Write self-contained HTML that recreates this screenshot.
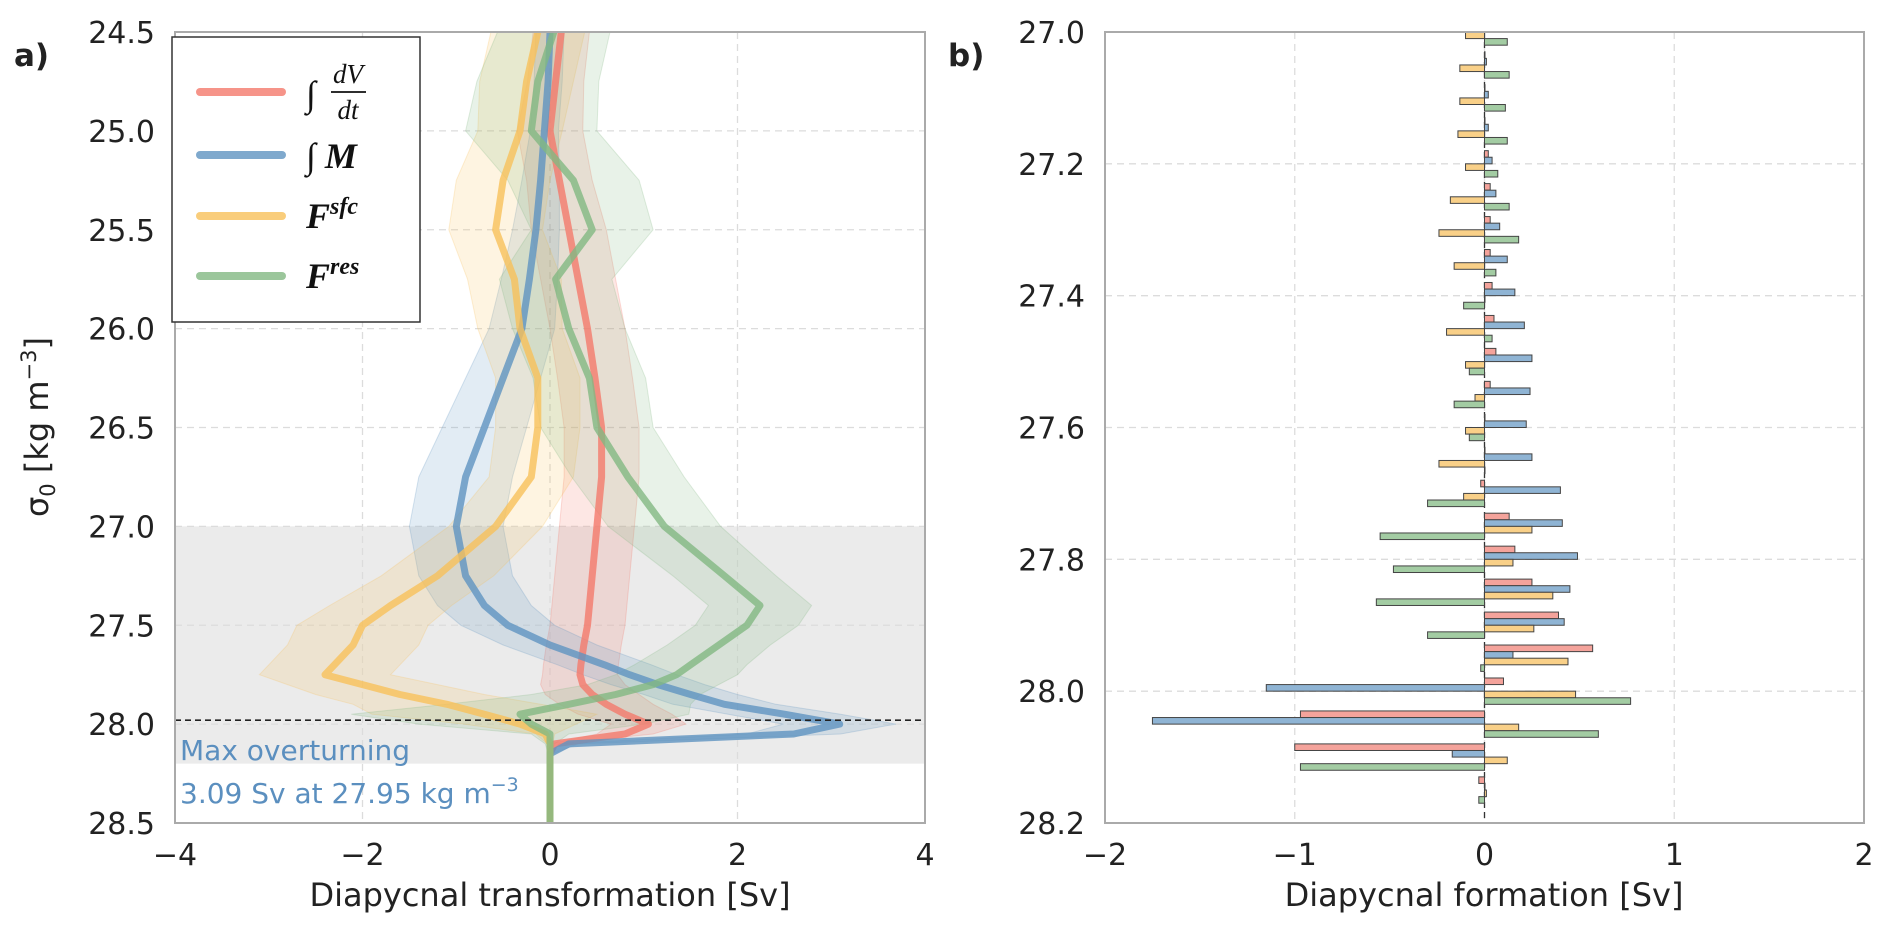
<!DOCTYPE html>
<html><head><meta charset="utf-8"><style>
html,body{margin:0;padding:0;background:#fff}
svg{display:block;font-family:"DejaVu Sans","Liberation Sans",sans-serif}
</style></head><body>
<svg id="fig" width="1892" height="931" viewBox="0 0 1892 931">
<g id="pa"></g>
<g id="pb"></g>
</svg>
<script>
// ---- Panel a data ----
const sigA = [24.5,24.75,25.0,25.25,25.5,25.75,26.0,26.25,26.5,26.75,27.0,27.25,27.4,27.5,27.6,27.7,27.75,27.8,27.85,27.9,27.95,28.0,28.05,28.1,28.15,28.3,28.5];
const redA = [0.12,0.06,0.0,0.1,0.2,0.3,0.4,0.48,0.55,0.55,0.5,0.45,0.42,0.4,0.36,0.33,0.32,0.35,0.45,0.6,0.8,1.05,0.8,0.05,0.0,0.0,0.0];
const blueA = [0.0,-0.02,-0.06,-0.1,-0.15,-0.22,-0.3,-0.5,-0.7,-0.9,-1.0,-0.9,-0.7,-0.45,0.0,0.58,0.85,1.15,1.5,1.86,2.5,3.09,2.6,0.2,0.0,0.0,0.0];
const yelA = [-0.13,-0.25,-0.32,-0.5,-0.58,-0.38,-0.32,-0.13,-0.13,-0.2,-0.58,-1.2,-1.7,-2.0,-2.1,-2.3,-2.4,-2.0,-1.6,-1.1,-0.7,-0.32,-0.05,0.0,0.0,0.0,0.0];
const grnA = [0.04,-0.13,-0.2,0.25,0.45,0.06,0.2,0.42,0.5,0.83,1.22,1.86,2.24,2.1,1.8,1.5,1.35,1.1,0.7,0.2,-0.32,-0.2,0.0,0.0,0.0,0.0,0.0];
const redW = [0.3,0.3,0.35,0.35,0.4,0.4,0.4,0.4,0.4,0.4,0.4,0.4,0.4,0.4,0.4,0.4,0.4,0.45,0.5,0.5,0.5,0.4,0.3,0.05,0.02,0.02,0.02];
const blueW = [0.15,0.15,0.15,0.2,0.25,0.3,0.35,0.4,0.45,0.5,0.5,0.5,0.5,0.5,0.5,0.5,0.5,0.5,0.5,0.55,0.6,0.6,0.5,0.1,0.03,0.02,0.02];
const yelW = [0.5,0.5,0.45,0.5,0.5,0.5,0.45,0.45,0.45,0.45,0.5,0.6,0.65,0.7,0.7,0.7,0.7,0.8,0.9,1.0,1.2,0.6,0.1,0.03,0.02,0.02,0.02];
const grnW = [0.6,0.65,0.7,0.7,0.65,0.6,0.6,0.6,0.6,0.6,0.6,0.55,0.55,0.55,0.55,0.6,0.65,0.7,0.9,1.3,1.8,1.2,0.2,0.05,0.02,0.02,0.02];
const xTicksA = [-4,-2,0,2,4];
const yTicksA = [24.5,25.0,25.5,26.0,26.5,27.0,27.5,28.0,28.5];
// ---- Panel b data ----
const sigB = [27.0,27.05,27.1,27.15,27.2,27.25,27.3,27.35,27.4,27.45,27.5,27.55,27.6,27.65,27.7,27.75,27.8,27.85,27.9,27.95,28.0,28.05,28.1,28.15];
const redB = [0,0,0,0,0.02,0.03,0.03,0.03,0.04,0.05,0.06,0.03,0,0,-0.02,0.13,0.16,0.25,0.39,0.57,0.1,-0.97,-1.0,-0.03];
const blueB = [0,0.01,0.02,0.02,0.04,0.06,0.08,0.12,0.16,0.21,0.25,0.24,0.22,0.25,0.4,0.41,0.49,0.45,0.42,0.15,-1.15,-1.75,-0.17,0.0];
const yelB = [-0.1,-0.13,-0.13,-0.14,-0.1,-0.18,-0.24,-0.16,0.0,-0.2,-0.1,-0.05,-0.1,-0.24,-0.11,0.25,0.15,0.36,0.26,0.44,0.48,0.18,0.12,0.01];
const grnB = [0.12,0.13,0.11,0.12,0.07,0.13,0.18,0.06,-0.11,0.04,-0.08,-0.16,-0.08,0.0,-0.3,-0.55,-0.48,-0.57,-0.3,-0.02,0.77,0.6,-0.97,-0.03];
const xTicksB = [-2,-1,0,1,2];
const yTicksB = [27.0,27.2,27.4,27.6,27.8,28.0,28.2];

const NS="http://www.w3.org/2000/svg";
function mk(parent,tag,attrs,text){const e=document.createElementNS(NS,tag);for(const k in attrs)e.setAttribute(k,attrs[k]);if(text!==undefined)e.textContent=text;parent.appendChild(e);return e;}
const TF=30, AF=32;

// Panel a axes
const A={l:175,r:925,t:32,b:823,x0:-4,x1:4,y0:24.5,y1:28.5};
const axA=v=>A.l+(v-A.x0)/(A.x1-A.x0)*(A.r-A.l);
const ayA=s=>A.t+(s-A.y0)/(A.y1-A.y0)*(A.b-A.t);
const pa=document.getElementById('pa');
let e;
e=mk(pa,'rect',{x:A.l,y:ayA(27.0),width:A.r-A.l,height:ayA(28.2)-ayA(27.0),fill:'#ebebeb'});


xTicksA.forEach(v=>{
  if(v>A.x0&&v<A.x1){e=mk(pa,'line',{x1:axA(v),x2:axA(v),y1:A.t,y2:A.b,stroke:'#dcdcdc','stroke-width':1.3,'stroke-dasharray':'7,5'});
  
  }
  e=mk(pa,'text',{x:axA(v),y:A.b+42,'text-anchor':'middle','font-size':TF,fill:'#222'},(v<0?'\u2212':'')+Math.abs(v));
  
  
});
yTicksA.forEach(v=>{
  if(v>A.y0&&v<A.y1){e=mk(pa,'line',{x1:A.l,x2:A.r,y1:ayA(v),y2:ayA(v),stroke:'#dcdcdc','stroke-width':1.3,'stroke-dasharray':'7,5'});
  
  }
  e=mk(pa,'text',{x:A.l-20,y:ayA(v)+11,'text-anchor':'end','font-size':TF,fill:'#222'},v.toFixed(1));
  
  
});
const seriesA=[[redA,redW,'#f4796b','dvdt'],[blueA,blueW,'#5f93c0','overturning'],[yelA,yelW,'#f8c05a','surface-flux'],[grnA,grnW,'#82b882','residual']];
seriesA.forEach(([v,w,c,n])=>{
  let p='';sigA.forEach((s,i)=>{p+=(i?'L':'M')+axA(v[i]-w[i]).toFixed(1)+','+ayA(s).toFixed(1);});
  for(let i=sigA.length-1;i>=0;i--)p+='L'+axA(v[i]+w[i]).toFixed(1)+','+ayA(sigA[i]).toFixed(1);
  e=mk(pa,'path',{d:p+'Z',fill:c,'fill-opacity':0.18,stroke:c,'stroke-opacity':0.25});
  
  
});
seriesA.forEach(([v,w,c,n])=>{
  let p='';sigA.forEach((s,i)=>{p+=(i?'L':'M')+axA(v[i]).toFixed(1)+','+ayA(s).toFixed(1);});
  e=mk(pa,'path',{d:p,fill:'none',stroke:c,'stroke-width':7,'stroke-opacity':0.8,'stroke-linejoin':'round'});
  
  
});
e=mk(pa,'line',{x1:A.l,x2:A.r,y1:ayA(27.98),y2:ayA(27.98),stroke:'#222','stroke-width':1.6,'stroke-dasharray':'6,4'});


e=mk(pa,'rect',{x:A.l,y:A.t,width:A.r-A.l,height:A.b-A.t,fill:'none',stroke:'#aaa','stroke-width':2});


e=mk(pa,'text',{x:180,y:760,'font-size':28,fill:'#5b8fbf'},'Max overturning');


e=mk(pa,'text',{x:180,y:803,'font-size':28,fill:'#5b8fbf'},'3.09 Sv at 27.95 kg m');


mk(e,'tspan',{dy:-12,'font-size':19},'\u22123');
e=mk(pa,'text',{transform:'translate(48,427) rotate(-90)','text-anchor':'middle','font-size':AF,fill:'#222'},'\u03c3');


mk(e,'tspan',{'font-size':21,dy:7},'0');
mk(e,'tspan',{dy:-7},' [kg m');
mk(e,'tspan',{'font-size':21,dy:-12},'\u22123');
mk(e,'tspan',{dy:12},']');
e=mk(pa,'text',{x:550,y:906,'text-anchor':'middle','font-size':AF,fill:'#222'},'Diapycnal transformation [Sv]');


e=mk(pa,'text',{x:14,y:66,'font-size':31,'font-weight':'bold',fill:'#222'},'a)');


// legend
const lg=mk(pa,'g',{});


mk(lg,'rect',{x:172,y:37,width:248,height:285,fill:'#fff',stroke:'#333','stroke-width':1.5});
const legY=[92,155,216,276];
seriesA.forEach(([v,w,c,n],i)=>{
  e=mk(lg,'line',{x1:200,x2:282,y1:legY[i],y2:legY[i],stroke:c,'stroke-width':8,'stroke-opacity':0.8,'stroke-linecap':'round'});
  
  
});
const sty={'font-family':'"Liberation Serif",serif',fill:'#111'};
e=mk(lg,'text',Object.assign({x:306,y:106,'font-size':36,'font-style':'italic'},sty),'\u222b');


mk(lg,'text',Object.assign({x:348,y:83,'font-size':27,'font-style':'italic','text-anchor':'middle'},sty),'dV');
mk(lg,'line',{x1:331,x2:366,y1:92,y2:92,stroke:'#111','stroke-width':1.8});
mk(lg,'text',Object.assign({x:348,y:119,'font-size':27,'font-style':'italic','text-anchor':'middle'},sty),'dt');
e=mk(lg,'text',Object.assign({x:306,y:168,'font-size':36},sty),'\u222b ');


mk(e,'tspan',{'font-weight':'bold','font-style':'italic'},'M');
e=mk(lg,'text',Object.assign({x:306,y:228,'font-size':36,'font-weight':'bold','font-style':'italic'},sty),'F');


mk(e,'tspan',{'font-size':24,dy:-14},'sfc');
e=mk(lg,'text',Object.assign({x:306,y:288,'font-size':36,'font-weight':'bold','font-style':'italic'},sty),'F');


mk(e,'tspan',{'font-size':24,dy:-14},'res');

// Panel b
const B={l:1105,r:1864,t:32,b:823,x0:-2,x1:2,y0:27.0,y1:28.2};
const axB=v=>B.l+(v-B.x0)/(B.x1-B.x0)*(B.r-B.l);
const ayB=s=>B.t+(s-B.y0)/(B.y1-B.y0)*(B.b-B.t);
const pb=document.getElementById('pb');
mk(pb,'clipPath',{id:'clipb'});
mk(document.getElementById('clipb'),'rect',{x:B.l,y:B.t,width:B.r-B.l,height:B.b-B.t});
xTicksB.forEach(v=>{
  if(v>B.x0&&v<B.x1){e=mk(pb,'line',{x1:axB(v),x2:axB(v),y1:B.t,y2:B.b,stroke:'#dcdcdc','stroke-width':1.3,'stroke-dasharray':'7,5'});
  
  }
  e=mk(pb,'text',{x:axB(v),y:B.b+42,'text-anchor':'middle','font-size':TF,fill:'#222'},(v<0?'\u2212':'')+Math.abs(v));
  
  
});
yTicksB.forEach(v=>{
  if(v>B.y0+1e-9&&v<B.y1-1e-9){e=mk(pb,'line',{x1:B.l,x2:B.r,y1:ayB(v),y2:ayB(v),stroke:'#dcdcdc','stroke-width':1.3,'stroke-dasharray':'7,5'});
  
  }
  e=mk(pb,'text',{x:B.l-20,y:ayB(v)+11,'text-anchor':'end','font-size':TF,fill:'#222'},v.toFixed(1));
  
  
});
const bars=mk(pb,'g',{'clip-path':'url(#clipb)'});


e=mk(bars,'line',{x1:axB(0),x2:axB(0),y1:B.t,y2:B.b,stroke:'#333','stroke-width':1.3,'stroke-dasharray':'6,4'});


const seriesB=[[redB,'#f4a39b','dvdt'],[blueB,'#8fb4d4','overturning'],[yelB,'#f9d088','surface-flux'],[grnB,'#a3cca3','residual']];
const bh=0.01;
seriesB.forEach(([v,c,n],k)=>{
  sigB.forEach((s,i)=>{
    const yc=s+(k-1.5)*bh;
    const x1=axB(Math.min(0,v[i])),x2=axB(Math.max(0,v[i]));
    const r=mk(bars,'rect',{x:x1,y:ayB(yc-bh/2),width:Math.max(x2-x1,0.5),height:ayB(yc+bh/2)-ayB(yc-bh/2),fill:c,stroke:'#444','stroke-width':1});
    
    
  });
});
e=mk(pb,'rect',{x:B.l,y:B.t,width:B.r-B.l,height:B.b-B.t,fill:'none',stroke:'#aaa','stroke-width':2});


e=mk(pb,'text',{x:1484,y:906,'text-anchor':'middle','font-size':AF,fill:'#222'},'Diapycnal formation [Sv]');


e=mk(pb,'text',{x:948,y:66,'font-size':31,'font-weight':'bold',fill:'#222'},'b)');


</script>
</body></html>
